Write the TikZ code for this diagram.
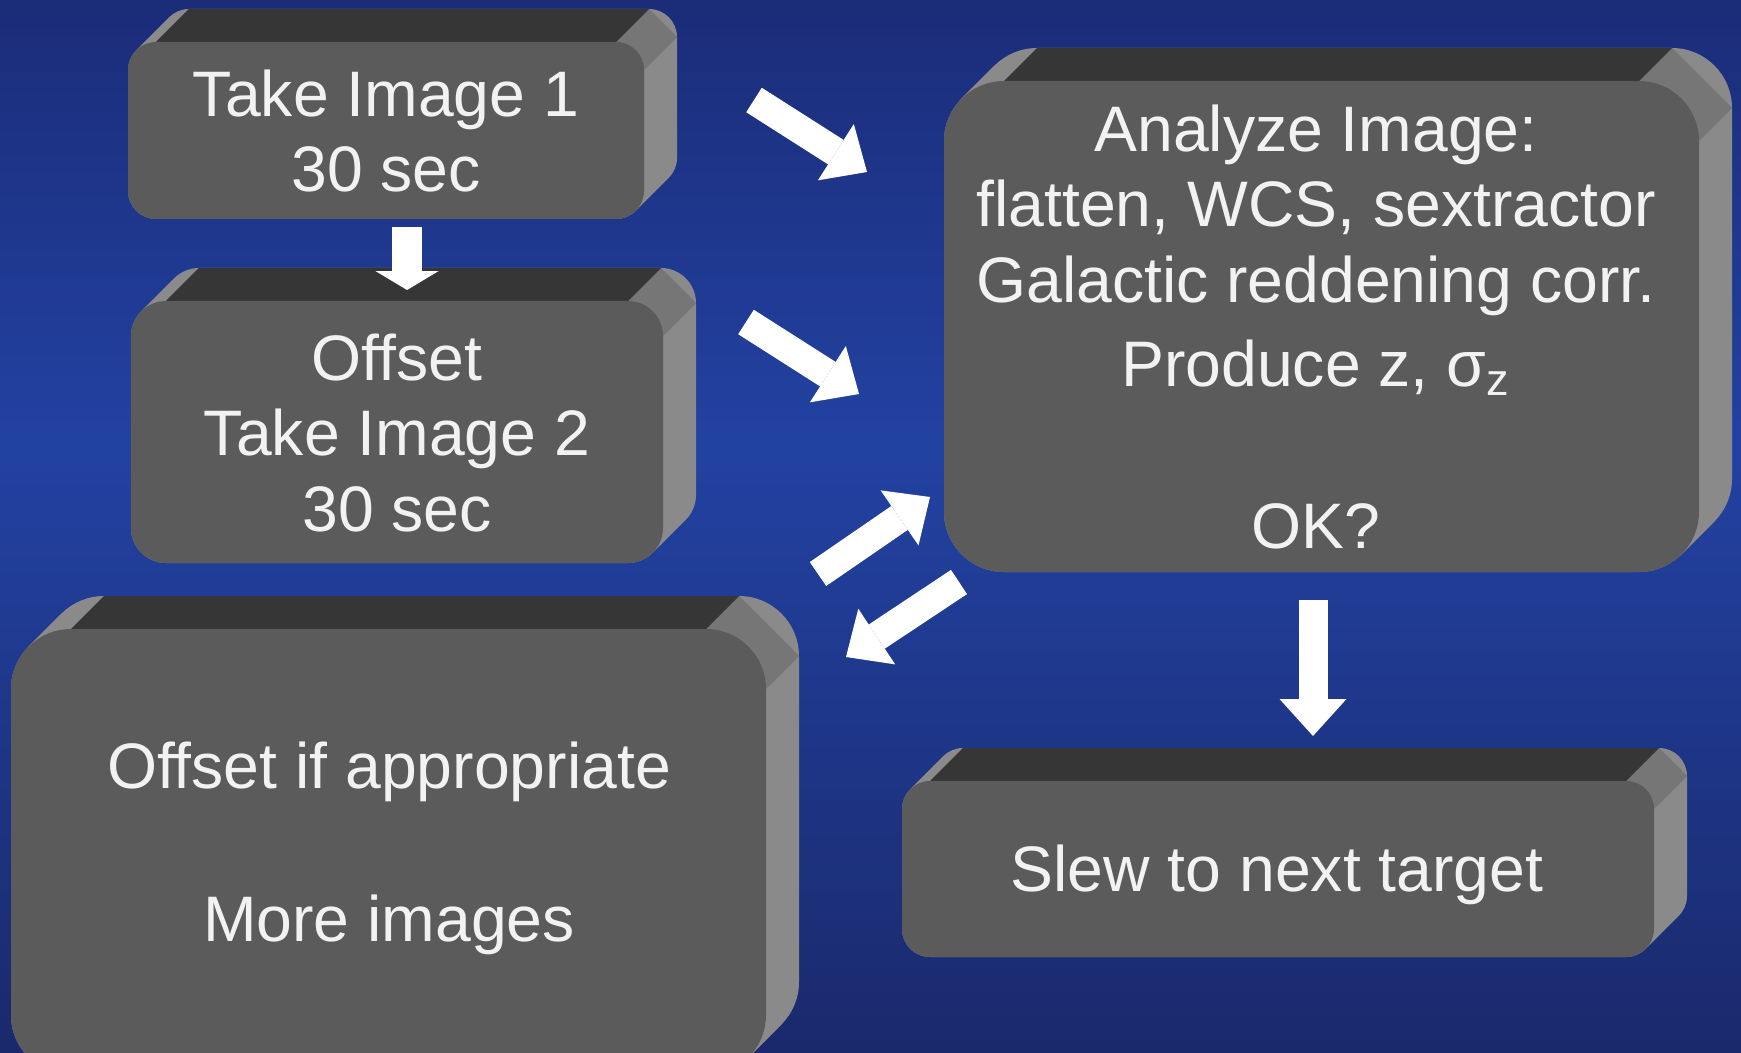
\documentclass[tikz,border=0pt]{standalone}
\usepackage{fontspec}
\setmainfont{Liberation Sans}
\usetikzlibrary{arrows.meta}

% Plate with depth: front top left (#1,#2), front bottom right (#3,#4), radius #5
\newcommand{\plate}[5]{%
  \foreach \s in {0,1,...,16}
    \fill[side,rounded corners=#5*0.2845pt]
      (#1+\s*2.0625,#2-\s*2.0625) rectangle (#3+\s*2.0625,#4-\s*2.0625);
  \fill[corner] (#1,#2+#5) -- (#1+33,#2+#5-33) -- (#1+#5+33,#2-33) -- (#1+#5,#2) -- cycle;
  \fill[facet] (#3-#5,#2) -- (#3-#5+33,#2-33) -- (#3+33,#2+#5-33) -- (#3,#2+#5) -- cycle;
  \fill[lid] (#1+#5,#2) -- (#1+#5+33,#2-33) -- (#3-#5+33,#2-33) -- (#3-#5,#2) -- cycle;
  \fill[face,rounded corners=#5*0.2845pt] (#1,#2) rectangle (#3,#4);
}

\begin{document}
\begin{tikzpicture}[x=0.1mm,y=-0.1mm,
    face/.style={fill=facegray},
    side/.style={fill=sidegray},
    lid/.style={fill=lidgray},
    corner/.style={fill=cornergray},
    facet/.style={fill=facetgray},
    txt/.style={text=textwhite,align=center,font=\fontsize{18.3}{21.5}\selectfont},
    flow/.style={draw=white,line width=8.25pt,
      -{Triangle[width=19pt,length=10.5pt,line width=0pt]}}]

  \definecolor{bgtop}{RGB}{27,44,120} % dark blue
  \definecolor{bgmid}{RGB}{34,66,162} % blue
  \definecolor{bgbot}{RGB}{26,41,108} % dark blue
  \definecolor{facegray}{RGB}{91,91,91}
  \definecolor{sidegray}{RGB}{138,138,138}
  \definecolor{lidgray}{RGB}{54,54,54}
  \definecolor{cornergray}{RGB}{100,100,100}
  \definecolor{facetgray}{RGB}{118,118,118}
  \definecolor{textwhite}{RGB}{242,242,242}

  \useasboundingbox (0,0) rectangle (1741,1053);
  \clip (0,0) rectangle (1741,1053);

  % Background
  \shade[top color=bgtop,bottom color=bgmid] (0,0) rectangle (1741,446);
  \shade[top color=bgmid,bottom color=bgbot] (0,444) rectangle (1741,1053);

  % Draw plates
  \plate{128}{42}{644}{219}{28}
  \plate{131}{301}{663}{563}{35}
  \plate{944}{81}{1699}{572}{60}
  \plate{11}{629}{766}{1075}{60}
  \plate{902}{781}{1654}{957}{28}

  % Texts
  \node[txt] (take1) at (386,131) {Take Image 1\\30 sec};
  \node[txt] (take2) at (397,433) {Offset\\Take Image 2\\30 sec};
  \node[txt] (analyze) at (1316,327)
    {Analyze Image:\\flatten, WCS, sextractor\\Galactic reddening corr.\\[2.4pt]
     Produce z, σ\textsubscript{z}\\[24.6pt]OK?};
  \node[txt] (more) at (389,848) {Offset if appropriate\\[22pt]More images};
  \node[txt] (slew) at (1277,875) {Slew to next target};

  % Arrow end points
  \coordinate (a1) at (754,100);  \coordinate (a2) at (867,172);
  \coordinate (b1) at (746,322);  \coordinate (b2) at (859,394);
  \coordinate (c1) at (818,574);  \coordinate (c2) at (930,497);
  \coordinate (d1) at (959,582);  \coordinate (d2) at (846,657);
  \coordinate (e1) at (407,227);  \coordinate (e2) at (407,290);
  \coordinate (f1) at (1313,600); \coordinate (f2) at (1313,736);

  % Draw arrows
  \draw[flow] (a1) -- (a2);
  \draw[flow] (b1) -- (b2);
  \draw[flow] (c1) -- (c2);
  \draw[flow] (d1) -- (d2);
  \draw[flow,line width=8.8pt,
    -{Triangle[width=18pt,length=5.4pt,line width=0pt]}] (e1) -- (e2);
  \draw[flow] (f1) -- (f2);

\end{tikzpicture}
\end{document}
